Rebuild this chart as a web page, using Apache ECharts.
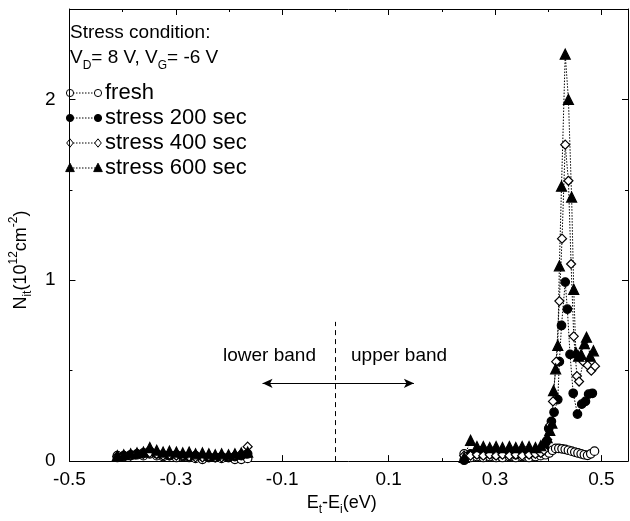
<!DOCTYPE html>
<html><head><meta charset="utf-8">
<script src="https://cdn.jsdelivr.net/npm/echarts@6/dist/echarts.min.js"></script>
<style>html,body{margin:0;padding:0;background:#fff}#c{width:630px;height:521px}</style>
</head><body><div id="c"></div>
<script>
// ---- data (E_t - E_i in eV, N_it in 1e12 cm^-2) ----
const lowerE = [-0.410,-0.398,-0.385,-0.373,-0.361,-0.349,-0.336,-0.324,-0.312,-0.299,-0.287,-0.275,-0.263,-0.250,-0.238,-0.226,-0.214,-0.201,-0.189,-0.177,-0.165];
const freshLower = [0.03,0.025,0.03,0.035,0.03,0.04,0.03,0.025,0.03,0.02,0.025,0.02,0.015,0.01,0.02,0.02,0.015,0.02,0.01,0.01,0.015];
const s200Lower  = [0.02,0.03,0.035,0.04,0.045,0.055,0.04,0.035,0.03,0.035,0.03,0.025,0.03,0.025,0.02,0.02,0.025,0.02,0.025,0.03,0.04];
const s400Lower  = [0.025,0.03,0.03,0.04,0.04,0.045,0.04,0.03,0.035,0.03,0.03,0.025,0.02,0.02,0.025,0.02,0.02,0.025,0.03,0.04,0.08];
const s600Lower  = [0.03,0.035,0.04,0.045,0.05,0.075,0.06,0.05,0.055,0.05,0.045,0.05,0.04,0.045,0.04,0.035,0.04,0.035,0.04,0.045,0.05];

const flatE = [0.242,0.254,0.266,0.278,0.290,0.302,0.314,0.327,0.339,0.351,0.364,0.376,0.386];
const freshFlat = [0.04,0.02,0.025,0.02,0.025,0.02,0.02,0.025,0.02,0.025,0.02,0.025,0.03];
const s200Flat  = [0.005,0.04,0.04,0.035,0.04,0.035,0.04,0.04,0.035,0.04,0.04,0.045,0.05];
const s400Flat  = [0.03,0.03,0.035,0.03,0.035,0.03,0.035,0.03,0.035,0.03,0.035,0.04,0.045];
const s600Flat  = [0.02,0.115,0.08,0.08,0.075,0.08,0.075,0.08,0.075,0.08,0.08,0.075,0.085];

const freshPeakE = [0.395,0.402,0.408,0.414,0.420,0.426,0.432,0.438,0.444,0.450,0.456,0.462,0.468,0.474,0.480,0.487];
const freshPeakN = [0.035,0.045,0.06,0.07,0.07,0.068,0.065,0.06,0.055,0.05,0.045,0.04,0.035,0.032,0.04,0.055];
const s200PeakE = [0.392,0.396,0.401,0.406,0.411,0.418,0.421,0.425,0.432,0.436,0.441,0.447,0.455,0.463,0.470,0.476,0.483];
const s200PeakN = [0.07,0.105,0.18,0.22,0.27,0.34,0.55,0.75,0.99,0.84,0.59,0.375,0.26,0.315,0.33,0.37,0.375];
const s400PeakE = [0.392,0.398,0.404,0.409,0.415,0.421,0.426,0.432,0.438,0.443,0.448,0.454,0.458,0.466,0.474,0.481,0.488];
const s400PeakN = [0.06,0.12,0.2,0.33,0.55,0.885,1.23,1.75,1.55,1.09,0.69,0.47,0.44,0.55,0.53,0.50,0.525];
const s600PeakE = [0.392,0.398,0.403,0.407,0.410,0.414,0.418,0.421,0.425,0.432,0.438,0.444,0.448,0.452,0.457,0.462,0.468,0.472,0.479,0.485];
const s600PeakN = [0.1,0.13,0.17,0.21,0.39,0.51,0.64,1.08,1.52,2.25,2.00,1.46,0.95,0.60,0.58,0.59,0.65,0.685,0.58,0.61];

const seriesNames = ['fresh','stress 200 sec','stress 400 sec','stress 600 sec'];
const xTickMin = -0.5, xTickMax = 0.55, xTickStep = 0.2;
const yTickMin = 0, yTickMax = 2.5, yTickStep = 1;

// ---- build ----
const FONT = "'Liberation Sans', Arial, Helvetica, sans-serif";
function pairs(xs, ys){ return xs.map((x,i)=>[x, ys[i]]); }
const defs = [
  {name: seriesNames[0], lower: freshLower, flat: freshFlat, pe: freshPeakE, pn: freshPeakN, symbol:'circle', size:8.5, fill:'#fff'},
  {name: seriesNames[1], lower: s200Lower, flat: s200Flat, pe: s200PeakE, pn: s200PeakN, symbol:'circle', size:8.5, fill:'#000'},
  {name: seriesNames[2], lower: s400Lower, flat: s400Flat, pe: s400PeakE, pn: s400PeakN, symbol:'diamond', size:9, fill:'#fff'},
  {name: seriesNames[3], lower: s600Lower, flat: s600Flat, pe: s600PeakE, pn: s600PeakN, symbol:'triangle', size:10, fill:'#000'}
];
const series = [];
defs.forEach(d => {
  const base = {
    type:'line', name:d.name, symbol:d.symbol, symbolSize:d.size, showAllSymbol:true,
    lineStyle:{color:'#000', width:1, type:[1.5,1.5]},
    itemStyle:{color:d.fill, borderColor:'#000', borderWidth:1.2},
    emphasis:{disabled:true}, animation:false, silent:true
  };
  series.push(Object.assign({}, base, {data: pairs(lowerE, d.lower)}));
  series.push(Object.assign({}, base, {data: pairs(flatE.concat(d.pe), d.flat.concat(d.pn))}));
});
// annotation lines
series[0].markLine = {
  silent:true, symbol:'none', label:{show:false}, animation:false,
  lineStyle:{color:'#000', width:1, type:[5,4]},
  data:[[{coord:[0,0]},{coord:[0,0.77]}]]
};
series[1].markLine = {
  silent:true, symbol:['arrow','arrow'], symbolSize:[7,10], label:{show:false}, animation:false,
  lineStyle:{color:'#000', width:1, type:'solid'},
  data:[[{coord:[-0.137,0.43]},{coord:[0.1475,0.43]}]]
};

const axisCommon = {
  axisLine:{show:true, onZero:false, lineStyle:{color:'#000', width:1}},
  axisTick:{show:true, inside:true, length:6, lineStyle:{color:'#000'}},
  minorTick:{show:true, splitNumber:2, length:3, lineStyle:{color:'#000'}},
  splitLine:{show:false}, minorSplitLine:{show:false}
};
const sub = {fontSize:12, lineHeight:12, verticalAlign:'bottom', fontFamily:FONT, color:'#000'};
const sup = {fontSize:12, lineHeight:12, verticalAlign:'top', fontFamily:FONT, color:'#000'};
const nrm = {fontSize:18, lineHeight:26, fontFamily:FONT, color:'#000'};

const option = {
  backgroundColor:'#fff',
  animation:false,
  grid:{left:61, right:2, top:9, bottom:54.5, containLabel:false},
  xAxis:[
    Object.assign({}, axisCommon, {
      type:'value', min:xTickMin, max:xTickMax, interval:xTickStep, position:'bottom',
      axisLabel:{fontSize:19, color:'#000', fontFamily:FONT, margin:9, showMaxLabel:false,
        formatter: v => (Math.round(v*10)/10).toFixed(1)},
      name:'{n|E}{s|t}{n|-E}{s|i}{n|(eV)}', nameLocation:'middle', nameGap:20,
      nameTextStyle:{rich:{n:nrm, s:sub}, padding:[0,14,0,0]}
    }),
    Object.assign({}, axisCommon, {
      type:'value', min:xTickMin, max:xTickMax, interval:xTickStep, position:'top',
      axisLabel:{show:false}
    })
  ],
  yAxis:[
    Object.assign({}, axisCommon, {
      type:'value', min:yTickMin, max:yTickMax, interval:yTickStep, position:'left',
      axisLabel:{fontSize:19, color:'#000', fontFamily:FONT, margin:14, showMaxLabel:false},
      name:'{n|N}{s|it}{n|(10}{p|12}{n|cm}{p|-2}{n|)}', nameLocation:'middle', nameGap:23, nameRotate:90,
      nameTextStyle:{rich:{n:nrm, s:sub, p:sup}, padding:[0,50,0,0]}
    }),
    Object.assign({}, axisCommon, {
      type:'value', min:yTickMin, max:yTickMax, interval:yTickStep, position:'right',
      axisLabel:{show:false}
    })
  ],
  series: series,
  graphic: []
};

// legend / annotations drawn as graphic elements
const g = option.graphic;
const txt = (x, y, text, size) => ({type:'text', x:x, y:y, silent:true,
  style:{text:text, fill:'#000', font:(size||19)+'px '+FONT, verticalAlign:'middle', align:'left'}});
g.push(txt(70, 33, 'Stress condition:'));
g.push({type:'text', x:70, y:58, silent:true, style:{
  text:'{n|V}{s|D}{n|= 8 V, V}{s|G}{n|= -6 V}', verticalAlign:'middle', align:'left',
  rich:{n:{fontSize:19, lineHeight:28, fontFamily:FONT, fill:'#000'}, s:{fontSize:12, lineHeight:12, verticalAlign:'bottom', fontFamily:FONT, fill:'#000'}}
}});
const rowsY = [93, 118, 143, 168];
function markerShape(kind, fill, cx, cy){
  if (kind==='circle') return {type:'circle', silent:true, shape:{cx:cx, cy:cy, r:3.6}, style:{fill:fill, stroke:'#000', lineWidth:1}};
  if (kind==='diamond') return {type:'polygon', silent:true, shape:{points:[[cx,cy-4.2],[cx+3.3,cy],[cx,cy+4.2],[cx-3.3,cy]]}, style:{fill:fill, stroke:'#000', lineWidth:1}};
  return {type:'polygon', silent:true, shape:{points:[[cx,cy-4.8],[cx+4.3,cy+3.6],[cx-4.3,cy+3.6]]}, style:{fill:fill, stroke:'#000', lineWidth:1}};
}
defs.forEach((d,i)=>{
  const y = rowsY[i];
  g.push({type:'line', silent:true, shape:{x1:70, y1:y, x2:98, y2:y}, style:{stroke:'#000', lineWidth:1, lineDash:[1.5,1.5]}});
  g.push(markerShape(d.symbol, d.fill, 70, y));
  g.push(markerShape(d.symbol, d.fill, 98, y));
  g.push(txt(105, y, d.name, 22));
});
g.push(txt(223, 356, 'lower band'));
g.push(txt(351, 356, 'upper band'));

const chart = echarts.init(document.getElementById('c'), null, {renderer:'canvas'});
chart.setOption(option);
</script>
</body></html>
